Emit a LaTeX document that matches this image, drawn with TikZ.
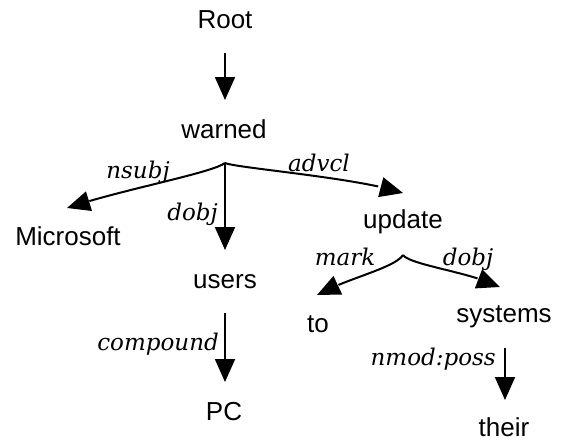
\documentclass[tikz,border=0pt]{standalone}
\usepackage{fontspec}
\setmainfont{Liberation Sans}
\newfontfamily\lblfont{DejaVu Serif}
\usetikzlibrary{arrows.meta,bending}
\tikzset{
  word/.style={inner sep=0pt,anchor=base,font=\fontsize{26}{28}\selectfont},
  rel/.style={inner sep=0pt,anchor=base,font=\lblfont\itshape\fontsize{23}{26}\selectfont},
  dep/.style={line width=2pt,-{Triangle[length=23pt,width=20pt,flex]}},
}
\begin{document}
\begin{tikzpicture}[x=1pt,y=-1pt]
\path[use as bounding box,fill=white] (0,0) rectangle (562,439);
% words
\node[word] (root) at (225,28) {Root};
\node[word] (warned) at (224,138) {warned};
\node[word] (ms) at (68,245) {Microsoft};
\node[word] (users) at (225,288) {users};
\node[word] (update) at (403,228) {update};
\node[word] (to) at (318,332) {to};
\node[word] (systems) at (504,322) {systems};
\node[word] (pc) at (224,420) {PC};
\node[word] (their) at (504,436) {their};
% connector end points
\coordinate (rootS) at (225,53);
\coordinate (warnedT) at (225,100);
\coordinate (b1) at (225,163);
\coordinate (msT) at (67,208);
\coordinate (usersT) at (225,250);
\coordinate (updateT) at (403,193);
\coordinate (b2) at (403,255);
\coordinate (toT) at (317,295);
\coordinate (systemsT) at (500,287);
\coordinate (usersS) at (225,313);
\coordinate (pcT) at (225,382);
\coordinate (systemsS) at (505,348);
\coordinate (theirT) at (505,400);
% connectors
\draw[dep] (rootS) -- (warnedT);
\draw[dep] (b1) .. controls (212,173) and (120,190) .. (msT);
\draw[dep] (b1) -- (usersT);
\draw[dep] (b1) .. controls (236,168) and (360,178) .. (updateT);
\draw[dep] (b2) .. controls (395,268) and (345,279) .. (toT);
\draw[dep] (b2) .. controls (410,265) and (470,272) .. (systemsT);
\draw[dep] (usersS) -- (pcT);
\draw[dep] (systemsS) -- (theirT);
% labels
\node[rel] (lnsubj) at (138,178) {nsubj};
\node[rel,anchor=base east] (ldobj) at (218,220) {dobj};
\node[rel] (ladvcl) at (319,171) {advcl};
\node[rel] (lmark) at (345,265) {mark};
\node[rel] (ldobj2) at (468,265) {dobj};
\node[rel,anchor=base east] (lcomp) at (219,350) {compound};
\node[rel,anchor=base east] (lnmod) at (496,365) {nmod:poss};
\end{tikzpicture}
\end{document}
